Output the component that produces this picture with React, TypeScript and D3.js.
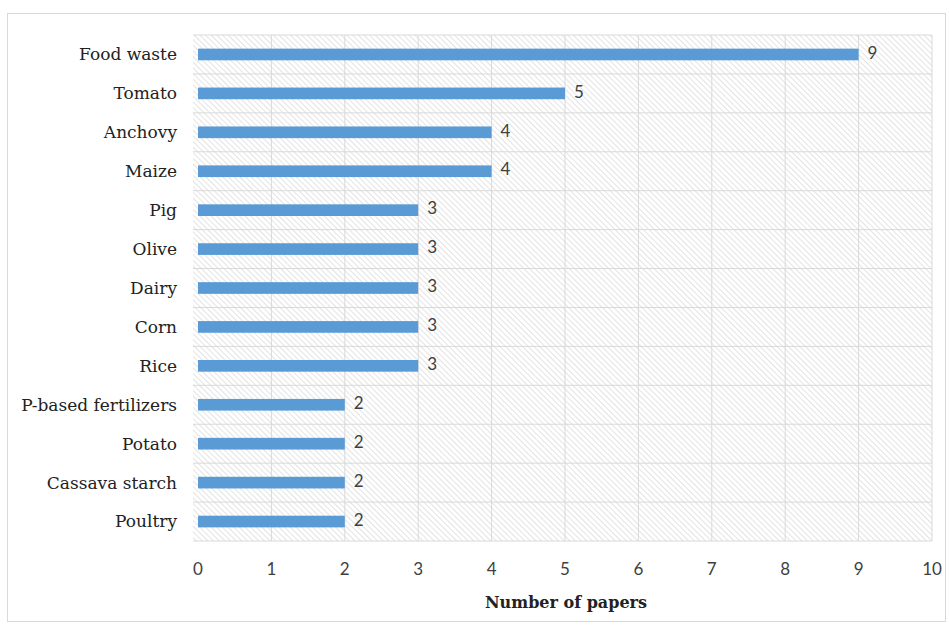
import React from "react";
import * as d3 from "d3";

const categories = ["Food waste","Tomato","Anchovy","Maize","Pig","Olive","Dairy","Corn","Rice","P-based fertilizers","Potato","Cassava starch","Poultry"];
const values = [9,5,4,4,3,3,3,3,3,2,2,2,2];
const xTicks = [0,1,2,3,4,5,6,7,8,9,10];
const xTitle = "Number of papers";

export default function App() {
  const W = 949, H = 627;
  const plotLeft = 193, plotRight = 932, plotTop = 35, plotBottom = 541;
  const x = d3.scaleLinear().domain([0, 10]).range([198, 932]);
  const y = d3.scaleBand().domain(categories).range([plotTop, plotBottom]).paddingInner(0.7).paddingOuter(0.35);
  const rowH = (plotBottom - plotTop) / categories.length;
  const serif = "'DejaVu Serif', 'Liberation Serif', serif";
  const sans = "Lato, 'Open Sans', sans-serif";
  return (
    <svg width={W} height={H} style={{ position: "absolute", left: 0, top: 0 }}>
      <defs>
        <pattern id="hatch" patternUnits="userSpaceOnUse" width="4" height="4" patternTransform="rotate(-45)">
          <rect width="4" height="4" fill="#ffffff" />
          <line x1="0" y1="0" x2="0" y2="4" stroke="#dcdcdc" strokeWidth="1.6" />
        </pattern>
      </defs>
      <rect x={0} y={0} width={W} height={H} fill="#fff" />
      <rect x={7.5} y={13.5} width={938} height={608} fill="#fff" stroke="#d9d9d9" strokeWidth={1} />
      <rect x={plotLeft} y={plotTop} width={plotRight - plotLeft} height={plotBottom - plotTop} fill="url(#hatch)" />
      {categories.map((c, i) => (
        <line key={"h" + i} x1={plotLeft} x2={plotRight} y1={plotTop + i * rowH} y2={plotTop + i * rowH} stroke="#d9d9d9" strokeWidth={1} />
      ))}
      <line x1={plotLeft} x2={plotRight} y1={plotBottom} y2={plotBottom} stroke="#d9d9d9" strokeWidth={1} />
      {xTicks.slice(1).map((t) => (
        <line key={"v" + t} x1={x(t)} x2={x(t)} y1={plotTop} y2={plotBottom} stroke="#d9d9d9" strokeWidth={1} />
      ))}
      {categories.map((c, i) => (
        <g key={c}>
          <rect x={x(0)} y={y(c)!} width={x(values[i]) - x(0)} height={y.bandwidth()} fill="#5b9bd5" />
          <text x={x(values[i]) + 9} y={y(c)! + y.bandwidth() / 2} dy="0.25em" fontFamily={sans} fontSize={17} fill="#404040">{values[i]}</text>
          <text x={177} y={y(c)! + y.bandwidth() / 2} dy="0.35em" textAnchor="end" fontFamily={serif} fontSize={17} fill="#222">{c}</text>
        </g>
      ))}
      {xTicks.map((t) => (
        <text key={"t" + t} x={x(t)} y={575} textAnchor="middle" fontFamily={sans} fontSize={17} fill="#404040">{t}</text>
      ))}
      <text x={566} y={608} textAnchor="middle" fontFamily={serif} fontSize={16} fontWeight="bold" fill="#222">{xTitle}</text>
    </svg>
  );
}
